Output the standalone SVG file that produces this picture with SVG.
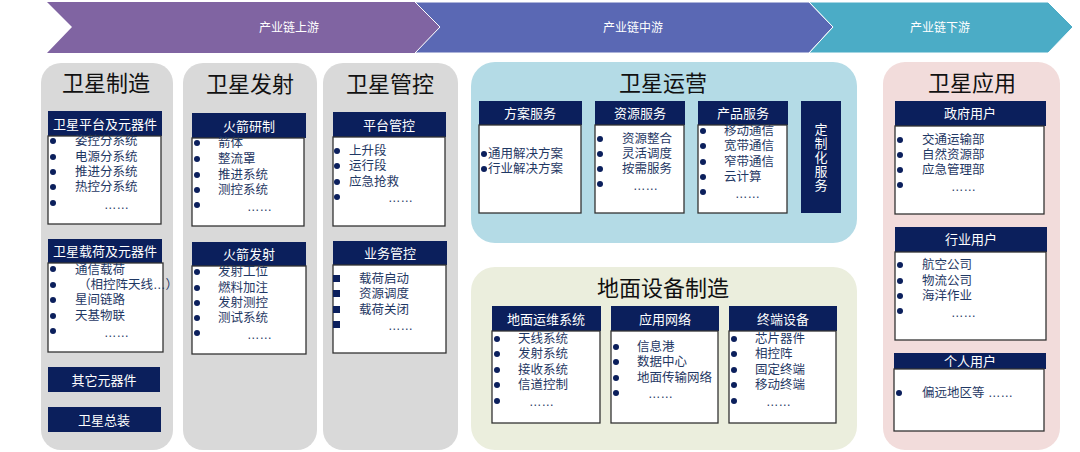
<svg xmlns="http://www.w3.org/2000/svg" width="1080" height="452" viewBox="0 0 1080 452">
<style>
text{font-family:"Liberation Sans","Noto Sans CJK SC",sans-serif;dominant-baseline:central}
.t{font-size:22px;fill:#111;text-anchor:middle}
.h{fill:#0b1f5c}
.ht{font-size:13px;fill:#fff;text-anchor:middle}
.b{fill:#fff;stroke:#333;stroke-width:1.3}
.i{font-size:12.5px;fill:#1f3864}
.d{fill:#0b1f5c}
.ch{font-size:12px;fill:#fff;text-anchor:middle}
</style>
<g id="chain">
<polygon points="47,2 415,2 440,27 415,53 47,53 72,27" fill="#8064a2"/>
<polygon points="415,2 809,2 833,27 809,53 415,53 440,27" fill="#5a68b4" stroke="#fff" stroke-width="1"/>
<polygon points="809,2 1048,2 1073,27 1048,53 809,53 833,27" fill="#4bacc6" stroke="#fff" stroke-width="1"/>
<text class="ch" x="289" y="28">产业链上游</text>
<text class="ch" x="633" y="28">产业链中游</text>
<text class="ch" x="940" y="28">产业链下游</text>
</g>
<g id="mfg">
<rect x="41" y="63" width="132" height="387" rx="20" fill="#d9d9d9"/>
<text class="t" x="106" y="83">卫星制造</text>
<rect class="h" x="48" y="111" width="114" height="25"/><text class="ht" x="105" y="124">卫星平台及元器件</text>
<rect class="b" x="48" y="136" width="113" height="88"/>
<g class="d"><circle cx="53" cy="141" r="3"/><circle cx="53" cy="157" r="3"/><circle cx="53" cy="172" r="3"/><circle cx="53" cy="187" r="3"/><circle cx="53" cy="203" r="3"/></g>
<text class="i" x="75" y="141">姿控分系统</text><text class="i" x="75" y="157">电源分系统</text><text class="i" x="75" y="172">推进分系统</text><text class="i" x="75" y="187">热控分系统</text><text class="i" x="104" y="205">……</text>
<rect class="h" x="48" y="239" width="114" height="24"/><text class="ht" x="105" y="251">卫星载荷及元器件</text>
<rect class="b" x="48" y="263" width="115" height="89"/>
<g class="d"><circle cx="53" cy="269" r="3"/><circle cx="53" cy="285" r="3"/><circle cx="53" cy="300" r="3"/><circle cx="53" cy="316" r="3"/><circle cx="53" cy="331" r="3"/></g>
<text class="i" x="75" y="270">通信载荷</text><text class="i" x="78" y="285">（相控阵天线…）</text><text class="i" x="75" y="300">星间链路</text><text class="i" x="75" y="316">天基物联</text><text class="i" x="104" y="333">……</text>
<rect class="h" x="48" y="367" width="112" height="25"/><text class="ht" x="104" y="380">其它元器件</text>
<rect class="h" x="48" y="407" width="113" height="25"/><text class="ht" x="104" y="420">卫星总装</text>
</g>
<g id="launch">
<rect x="183" y="63" width="134" height="387" rx="20" fill="#d9d9d9"/>
<text class="t" x="250" y="84">卫星发射</text>
<rect class="h" x="192" y="113" width="114" height="25"/><text class="ht" x="249" y="126">火箭研制</text>
<rect class="b" x="192" y="138" width="112" height="88"/>
<g class="d"><circle cx="197" cy="143" r="3"/><circle cx="197" cy="159" r="3"/><circle cx="197" cy="175" r="3"/><circle cx="197" cy="190" r="3"/><circle cx="197" cy="205" r="3"/></g>
<text class="i" x="218" y="143">箭体</text><text class="i" x="218" y="159">整流罩</text><text class="i" x="218" y="175">推进系统</text><text class="i" x="218" y="190">测控系统</text><text class="i" x="247" y="207">……</text>
<rect class="h" x="192" y="242" width="114" height="24"/><text class="ht" x="249" y="254">火箭发射</text>
<rect class="b" x="192" y="266" width="114" height="88"/>
<g class="d"><circle cx="197" cy="272" r="3"/><circle cx="197" cy="288" r="3"/><circle cx="197" cy="303" r="3"/><circle cx="197" cy="318" r="3"/><circle cx="197" cy="333" r="3"/></g>
<text class="i" x="218" y="272">发射工位</text><text class="i" x="218" y="288">燃料加注</text><text class="i" x="218" y="303">发射测控</text><text class="i" x="218" y="318">测试系统</text><text class="i" x="247" y="335">……</text>
</g>
<g id="ctrl">
<rect x="323" y="63" width="135" height="387" rx="20" fill="#d9d9d9"/>
<text class="t" x="390" y="84">卫星管控</text>
<rect class="h" x="333" y="112" width="113" height="25"/><text class="ht" x="389" y="125">平台管控</text>
<rect class="b" x="333" y="137" width="112" height="89"/>
<g class="d"><circle cx="337" cy="151" r="3"/><circle cx="337" cy="166" r="3"/><circle cx="337" cy="182" r="3"/><circle cx="337" cy="197" r="3"/></g>
<text class="i" x="349" y="151">上升段</text><text class="i" x="349" y="166">运行段</text><text class="i" x="349" y="182">应急抢救</text><text class="i" x="388" y="198">……</text>
<rect class="h" x="333" y="241" width="114" height="24"/><text class="ht" x="390" y="253">业务管控</text>
<rect class="b" x="333" y="265" width="113" height="88"/>
<g class="d"><rect x="333" y="275" width="7" height="7"/><rect x="333" y="290" width="7" height="7"/><rect x="333" y="306" width="7" height="7"/><rect x="333" y="321" width="7" height="7"/></g>
<text class="i" x="359" y="279">载荷启动</text><text class="i" x="359" y="294">资源调度</text><text class="i" x="359" y="310">载荷关闭</text><text class="i" x="388" y="326">……</text>
</g>
<g id="ops">
<rect x="471" y="62" width="386" height="181" rx="24" fill="#b4dbe6"/>
<text class="t" x="663" y="83">卫星运营</text>
<rect class="h" x="479" y="101" width="103" height="24"/><text class="ht" x="530" y="113">方案服务</text>
<rect class="b" x="479" y="125" width="102" height="88"/>
<g class="d"><circle cx="484" cy="154" r="3"/><circle cx="484" cy="169" r="3"/></g>
<text class="i" x="488" y="154">通用解决方案</text><text class="i" x="488" y="169">行业解决方案</text>
<rect class="h" x="595" y="101" width="90" height="24"/><text class="ht" x="640" y="113">资源服务</text>
<rect class="b" x="595" y="125" width="89" height="88"/>
<g class="d"><circle cx="600" cy="139" r="3"/><circle cx="600" cy="154" r="3"/><circle cx="600" cy="169" r="3"/><circle cx="600" cy="184" r="3"/></g>
<text class="i" x="622" y="139">资源整合</text><text class="i" x="622" y="154">灵活调度</text><text class="i" x="622" y="169">按需服务</text><text class="i" x="633" y="186">……</text>
<rect class="h" x="698" y="101" width="90" height="24"/><text class="ht" x="743" y="113">产品服务</text>
<rect class="b" x="698" y="125" width="89" height="88"/>
<g class="d"><circle cx="703" cy="131" r="3"/><circle cx="703" cy="146" r="3"/><circle cx="703" cy="162" r="3"/><circle cx="703" cy="177" r="3"/><circle cx="703" cy="192" r="3"/></g>
<text class="i" x="724" y="131">移动通信</text><text class="i" x="724" y="146">宽带通信</text><text class="i" x="724" y="162">窄带通信</text><text class="i" x="724" y="177">云计算</text><text class="i" x="735" y="194">……</text>
<rect class="h" x="801" y="101" width="40" height="112"/>
<text class="ht" x="821" y="129">定</text><text class="ht" x="821" y="143">制</text><text class="ht" x="821" y="157">化</text><text class="ht" x="821" y="171">服</text><text class="ht" x="821" y="185">务</text>
</g>
<g id="ground">
<rect x="471" y="267" width="386" height="183" rx="24" fill="#ebeedd"/>
<text class="t" x="663" y="288">地面设备制造</text>
<rect class="h" x="492" y="306" width="109" height="25"/><text class="ht" x="546" y="319">地面运维系统</text>
<rect class="b" x="492" y="331" width="108" height="92"/>
<g class="d"><circle cx="497" cy="339" r="3"/><circle cx="497" cy="354" r="3"/><circle cx="497" cy="370" r="3"/><circle cx="497" cy="385" r="3"/><circle cx="497" cy="401" r="3"/></g>
<text class="i" x="518" y="339">天线系统</text><text class="i" x="518" y="354">发射系统</text><text class="i" x="518" y="370">接收系统</text><text class="i" x="518" y="385">信道控制</text><text class="i" x="529" y="402">……</text>
<rect class="h" x="611" y="306" width="108" height="25"/><text class="ht" x="665" y="319">应用网络</text>
<rect class="b" x="611" y="331" width="107" height="92"/>
<g class="d"><circle cx="616" cy="347" r="3"/><circle cx="616" cy="362" r="3"/><circle cx="616" cy="378" r="3"/><circle cx="616" cy="393" r="3"/></g>
<text class="i" x="637" y="347">信息港</text><text class="i" x="637" y="362">数据中心</text><text class="i" x="637" y="378">地面传输网络</text><text class="i" x="648" y="394">……</text>
<rect class="h" x="729" y="306" width="108" height="25"/><text class="ht" x="783" y="319">终端设备</text>
<rect class="b" x="729" y="331" width="107" height="92"/>
<g class="d"><circle cx="734" cy="339" r="3"/><circle cx="734" cy="354" r="3"/><circle cx="734" cy="370" r="3"/><circle cx="734" cy="385" r="3"/><circle cx="734" cy="401" r="3"/></g>
<text class="i" x="755" y="339">芯片器件</text><text class="i" x="755" y="354">相控阵</text><text class="i" x="755" y="370">固定终端</text><text class="i" x="755" y="385">移动终端</text><text class="i" x="766" y="402">……</text>
</g>
<g id="app">
<rect x="883" y="62" width="177" height="388" rx="22" fill="#f2dcdb"/>
<text class="t" x="972" y="83">卫星应用</text>
<rect class="h" x="895" y="101" width="151" height="25"/><text class="ht" x="970" y="113">政府用户</text>
<rect class="b" x="895" y="126" width="149" height="88"/>
<g class="d"><circle cx="900" cy="140" r="3"/><circle cx="900" cy="155" r="3"/><circle cx="900" cy="170" r="3"/><circle cx="900" cy="185" r="3"/></g>
<text class="i" x="922" y="140">交通运输部</text><text class="i" x="922" y="155">自然资源部</text><text class="i" x="922" y="170">应急管理部</text><text class="i" x="951" y="187">……</text>
<rect class="h" x="895" y="227" width="152" height="25"/><text class="ht" x="971" y="239">行业用户</text>
<rect class="b" x="895" y="252" width="151" height="88"/>
<g class="d"><circle cx="900" cy="265" r="3"/><circle cx="900" cy="281" r="3"/><circle cx="900" cy="296" r="3"/><circle cx="900" cy="311" r="3"/></g>
<text class="i" x="922" y="265">航空公司</text><text class="i" x="922" y="281">物流公司</text><text class="i" x="922" y="296">海洋作业</text><text class="i" x="951" y="313">……</text>
<rect class="h" x="894" y="353" width="152" height="16"/><text class="ht" x="970" y="361">个人用户</text>
<rect class="b" x="894" y="369" width="150" height="62"/>
<circle class="d" cx="899" cy="393" r="3"/>
<text class="i" x="922" y="393">偏远地区等 ……</text>
</g>
<g id="connectors"/>
</svg>
